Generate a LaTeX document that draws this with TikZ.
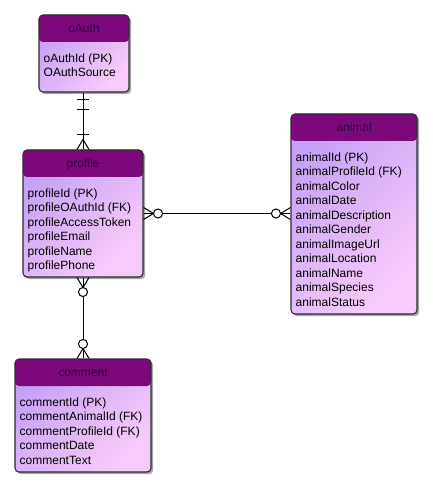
\documentclass[tikz,border=0pt]{standalone}
\usepackage{fontspec}
\setmainfont{Liberation Sans}
\usetikzlibrary{calc,shadows}

\definecolor{hdr}{RGB}{124,8,124}
\definecolor{hdrtext}{RGB}{50,0,60}
\definecolor{bodytl}{RGB}{196,160,246}
\definecolor{bodybr}{RGB}{248,204,250}
\definecolor{edge}{RGB}{45,40,50}

\tikzset{
  entity/.style={draw=edge, line width=0.8pt, rounded corners=3pt, inner sep=0pt,
    top color=bodytl, bottom color=bodybr, shading angle=45,
    drop shadow={shadow xshift=1.6pt, shadow yshift=-1.6pt, opacity=0.35, fill=black},
    path picture={\fill[hdr] (path picture bounding box.north west) rectangle
      ([yshift=-20.25pt]path picture bounding box.north east);}},
  title/.style={font=\fontsize{9}{10.9}\selectfont, text=hdrtext, inner sep=0pt, anchor=base},
  attrs/.style={font=\fontsize{9}{10.9}\selectfont, align=left, anchor=north west,
    inner sep=0pt, text=black},
  link/.style={line width=0.75pt, black},
  ring/.style={line width=0.75pt, draw=black, fill=white},
}

\begin{document}
\begin{tikzpicture}[x=0.75pt, y=-0.75pt]
  \useasboundingbox (0,0) rectangle (432,488);

  % entity boxes
  \node[entity, minimum width=67.5pt, minimum height=57.75pt] (oauth) at (84,53.5) {};
  \node[entity, minimum width=90pt, minimum height=95.25pt] (profile) at (83,213.5) {};
  \node[entity, minimum width=94.5pt, minimum height=150pt] (animal) at (354,214) {};
  \node[entity, minimum width=102pt, minimum height=84.75pt] (comment) at (83,415.5) {};

  % titles
  \node[title] (oauth-t) at ([yshift=-13.3pt]oauth.north) {oAuth};
  \node[title] (profile-t) at ([yshift=-13.3pt]profile.north) {profile};
  \node[title] (animal-t) at ([yshift=-13.3pt]animal.north) {animal};
  \node[title] (comment-t) at ([yshift=-13.3pt]comment.north) {comment};

  % attributes
  \node[attrs] (oauth-a) at ([xshift=3.75pt,yshift=-29pt]oauth.north west)
    {oAuthId (PK)\\OAuthSource};
  \node[attrs] (profile-a) at ([xshift=3.75pt,yshift=-29pt]profile.north west)
    {profileId (PK)\\profileOAuthId (FK)\\profileAccessToken\\profileEmail\\profileName\\profilePhone};
  \node[attrs] (animal-a) at ([xshift=3.75pt,yshift=-29pt]animal.north west)
    {animalId (PK)\\animalProfileId (FK)\\animalColor\\animalDate\\animalDescription\\animalGender\\animalImageUrl\\animalLocation\\animalName\\animalSpecies\\animalStatus};
  \node[attrs] (comment-a) at ([xshift=3.75pt,yshift=-29pt]comment.north west)
    {commentId (PK)\\commentAnimalId (FK)\\commentProfileId (FK)\\commentDate\\commentText};

  % oAuth (one and only one) -- profile (one or many)
  \coordinate (o1) at (profile.north |- oauth.south);
  \coordinate (o2) at (profile.north);
  \draw[link] (o1) -- (o2);
  \draw[link] ($(o1)+(-6,7)$) -- ($(o1)+(6,7)$);
  \draw[link] ($(o1)+(-6,17)$) -- ($(o1)+(6,17)$);
  \draw[link] ($(o2)+(-6,-15)$) -- ($(o2)+(6,-15)$);
  \draw[link] ($(o2)+(-6,0)$) -- ($(o2)+(0,-10)$) -- ($(o2)+(6,0)$);

  % profile (zero or many) -- animal (zero or many)
  \coordinate (h1) at (profile.east);
  \coordinate (h2) at (profile.east -| animal.west);
  \draw[link] (h1) -- (h2);
  \draw[link] ($(h1)+(0,-6)$) -- ($(h1)+(10,0)$) -- ($(h1)+(0,6)$);
  \draw[link] ($(h2)+(0,-6)$) -- ($(h2)+(-10,0)$) -- ($(h2)+(0,6)$);
  \draw[ring] ($(h1)+(14.5,0)$) circle[radius=3.4pt];
  \draw[ring] ($(h2)+(-14.5,0)$) circle[radius=3.4pt];

  % profile (zero or many) -- comment (zero or many)
  \coordinate (v1) at (profile.south);
  \coordinate (v2) at (profile.south |- comment.north);
  \draw[link] (v1) -- (v2);
  \draw[link] ($(v1)+(-6,0)$) -- ($(v1)+(0,10)$) -- ($(v1)+(6,0)$);
  \draw[link] ($(v2)+(-6,0)$) -- ($(v2)+(0,-10)$) -- ($(v2)+(6,0)$);
  \draw[ring] ($(v1)+(0,14.5)$) circle[radius=3.4pt];
  \draw[ring] ($(v2)+(0,-14.5)$) circle[radius=3.4pt];
\end{tikzpicture}
\end{document}
